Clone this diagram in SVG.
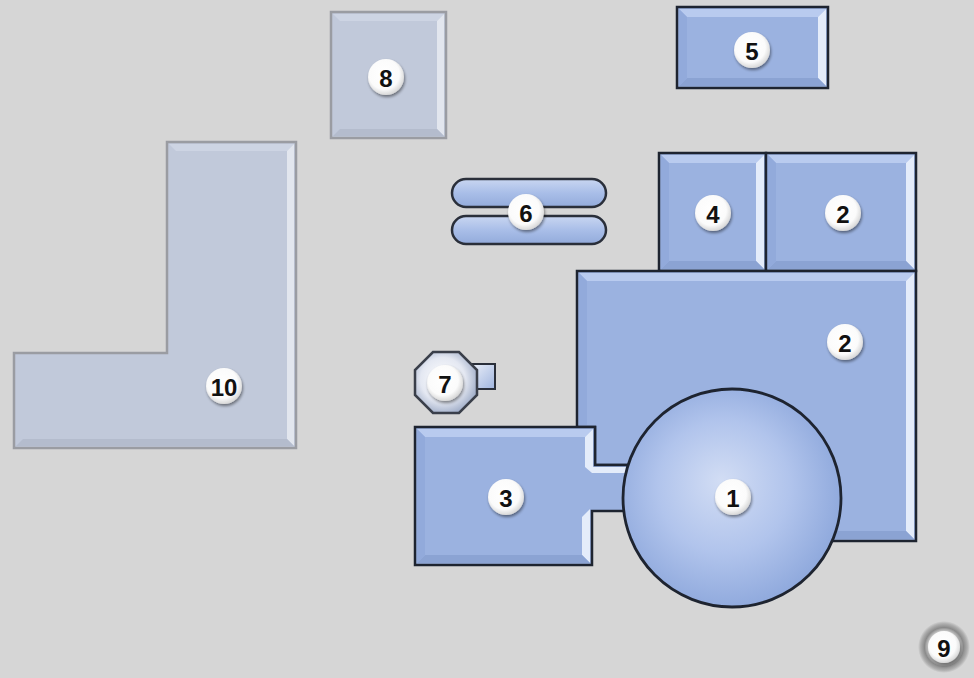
<svg xmlns="http://www.w3.org/2000/svg" width="974" height="678" viewBox="0 0 974 678">
<defs>
<style>
.blue{fill:#9bb2e0;stroke:#1e2430;stroke-width:2.5;stroke-linejoin:miter}
.grey{fill:#c1c9da;stroke:#9a9ca2;stroke-width:2.5}
.bt{fill:#b9cbef}
.br{fill:#e4ecfa}
.bb{fill:#8ba3d3}
.bl{fill:#92aadb}
.gt{fill:#cdd4e3}
.gr{fill:#e2e6ee}
.gb{fill:#b4bccd}
.lab{fill:url(#labg);filter:url(#sh)}
.num{font-family:"Liberation Sans",Arial,sans-serif;font-weight:bold;font-size:24px;fill:#111;text-anchor:middle;dominant-baseline:central}
</style>
<radialGradient id="labg" cx="0.45" cy="0.42" r="0.6">
<stop offset="0" stop-color="#ffffff"/>
<stop offset="0.7" stop-color="#fbfbfb"/>
<stop offset="1" stop-color="#d4d4d4"/>
</radialGradient>
<radialGradient id="c1g" cx="0.47" cy="0.47" r="0.55" fx="0.45" fy="0.42">
<stop offset="0" stop-color="#d2ddf4"/>
<stop offset="0.55" stop-color="#b1c4ec"/>
<stop offset="1" stop-color="#8ea8dc"/>
</radialGradient>
<linearGradient id="pill" x1="0" y1="0" x2="0" y2="1">
<stop offset="0" stop-color="#c9d6f1"/>
<stop offset="0.5" stop-color="#a9bee8"/>
<stop offset="1" stop-color="#93abdb"/>
</linearGradient>
<radialGradient id="oct" cx="0.45" cy="0.45" r="0.6">
<stop offset="0" stop-color="#ffffff"/>
<stop offset="0.6" stop-color="#e4e8f2"/>
<stop offset="1" stop-color="#9aa8c4"/>
</radialGradient>
<linearGradient id="sq7" x1="0" y1="0" x2="1" y2="1">
<stop offset="0" stop-color="#eef2fa"/>
<stop offset="1" stop-color="#9fb4de"/>
</linearGradient>
<radialGradient id="ring9" cx="0.5" cy="0.5" r="0.5">
<stop offset="0.55" stop-color="#e8e8e8"/>
<stop offset="0.75" stop-color="#8a8a8a"/>
<stop offset="0.9" stop-color="#b0b0b0"/>
<stop offset="1" stop-color="#d6d6d6"/>
</radialGradient>
<filter id="sh" x="-30%" y="-30%" width="160%" height="160%">
<feGaussianBlur in="SourceAlpha" stdDeviation="1.5"/>
<feOffset dx="1" dy="1.5" result="b"/>
<feComponentTransfer><feFuncA type="linear" slope="0.45"/></feComponentTransfer>
<feMerge><feMergeNode/><feMergeNode in="SourceGraphic"/></feMerge>
</filter>
</defs>
<rect width="974" height="678" fill="#d6d6d6"/>

<g id="node-10">
<path class="grey" d="M167,142 H296 V448 H14 V353 H167 Z"/>
<polygon class="gt" points="169,144 294,144 287,151 176,151"/>
<polygon class="gr" points="294,144 294,446 287,439 287,151"/>
<polygon class="gb" points="16,446 294,446 287,439 23,439"/>
<rect class="grey" x="176" y="151" width="111" height="288" style="stroke:none"/>
<rect class="grey" x="23" y="362" width="160" height="77" style="stroke:none"/>
<circle class="lab" cx="224" cy="386" r="18"/>
<text class="num" x="224" y="387">10</text>
</g>

<g id="node-8">
<rect class="grey" x="331" y="12" width="115" height="126"/>
<polygon class="gt" points="333,14 444,14 437,21 340,21"/>
<polygon class="gr" points="444,14 444,136 437,129 437,21"/>
<polygon class="gb" points="333,136 444,136 437,129 340,129"/>
<circle class="lab" cx="386" cy="77" r="18"/>
<text class="num" x="386" y="78">8</text>
</g>

<g id="node-5">
<rect class="blue" x="677" y="7" width="151" height="81"/>
<polygon class="bt" points="679,9 826,9 818,17 687,17"/>
<polygon class="br" points="826,9 826,86 818,78 818,17"/>
<polygon class="bb" points="679,86 826,86 818,78 687,78"/>
<polygon class="bl" points="679,9 687,17 687,78 679,86"/>
<circle class="lab" cx="752" cy="50" r="18"/>
<text class="num" x="752" y="51">5</text>
</g>

<g id="node-6">
<rect x="452" y="179" width="154" height="28" rx="14" fill="url(#pill)" stroke="#2a2f3a" stroke-width="2.5"/>
<rect x="452" y="216" width="154" height="28" rx="14" fill="url(#pill)" stroke="#2a2f3a" stroke-width="2.5"/>
<circle class="lab" cx="526" cy="212" r="18"/>
<text class="num" x="526" y="213">6</text>
</g>

<g id="node-4">
<rect class="blue" x="659" y="153" width="107" height="118"/>
<polygon class="bt" points="661,155 764,155 756,163 669,163"/>
<polygon class="br" points="764,155 764,269 756,261 756,163"/>
<polygon class="bb" points="661,269 764,269 756,261 669,261"/>
<polygon class="bl" points="661,155 669,163 669,261 661,269"/>
<circle class="lab" cx="713" cy="213" r="18"/>
<text class="num" x="713" y="214">4</text>
</g>

<g id="node-2a">
<rect class="blue" x="766" y="153" width="150" height="118"/>
<polygon class="bt" points="768,155 914,155 906,163 776,163"/>
<polygon class="br" points="914,155 914,269 906,261 906,163"/>
<polygon class="bb" points="768,269 914,269 906,261 776,261"/>
<polygon class="bl" points="768,155 776,163 776,261 768,269"/>
<circle class="lab" cx="843" cy="213" r="18"/>
<text class="num" x="843" y="214">2</text>
</g>

<g id="node-2b">
<path class="blue" d="M577,271 H916 V541 H780 V465 H595 V427 H577 Z"/>
<polygon class="bt" points="579,273 914,273 906,281 587,281"/>
<polygon class="br" points="914,273 914,539 906,531 906,281"/>
<polygon class="bb" points="780,539 914,539 906,531 780,531"/>
<polygon class="bl" points="579,273 587,281 587,425 579,425"/>
<circle class="lab" cx="845" cy="342" r="18"/>
<text class="num" x="845" y="343">2</text>
</g>

<g id="node-3">
<path class="blue" d="M415,427 H595 V465 H632 V511 H592 V565 H415 Z"/>
<polygon class="bt" points="417,429 593,429 585,437 425,437"/>
<polygon class="br" points="593,429 593,467 585,467 585,437"/>
<polygon class="br" points="590,509 590,563 582,555 582,517"/>
<polygon class="bb" points="417,563 590,563 582,555 425,555"/>
<polygon class="bl" points="417,429 425,437 425,555 417,563"/>
<polygon class="br" points="585,467 632,467 632,473 592,473"/>
<circle class="lab" cx="506" cy="497" r="18"/>
<text class="num" x="506" y="498">3</text>
</g>

<g id="node-1">
<circle cx="732" cy="498" r="109" fill="url(#c1g)" stroke="#1e2430" stroke-width="2.8"/>
<circle class="lab" cx="733" cy="497" r="18"/>
<text class="num" x="733" y="498">1</text>
</g>

<g id="node-7">
<rect x="470" y="364" width="25" height="25" fill="url(#sq7)" stroke="#2a2f3a" stroke-width="2"/>
<polygon points="433,352 459,352 477,370 477,395 459,413 433,413 415,395 415,370" fill="url(#oct)" stroke="#3a3f4a" stroke-width="2.5"/>
<circle class="lab" cx="445" cy="383" r="18"/>
<text class="num" x="445" y="384">7</text>
</g>

<g id="node-9">
<circle cx="944" cy="647" r="26" fill="url(#ring9)"/>
<circle class="lab" cx="944" cy="647" r="16"/>
<text class="num" x="944" y="648">9</text>
</g>

<g id="connectors"></g>
</svg>
